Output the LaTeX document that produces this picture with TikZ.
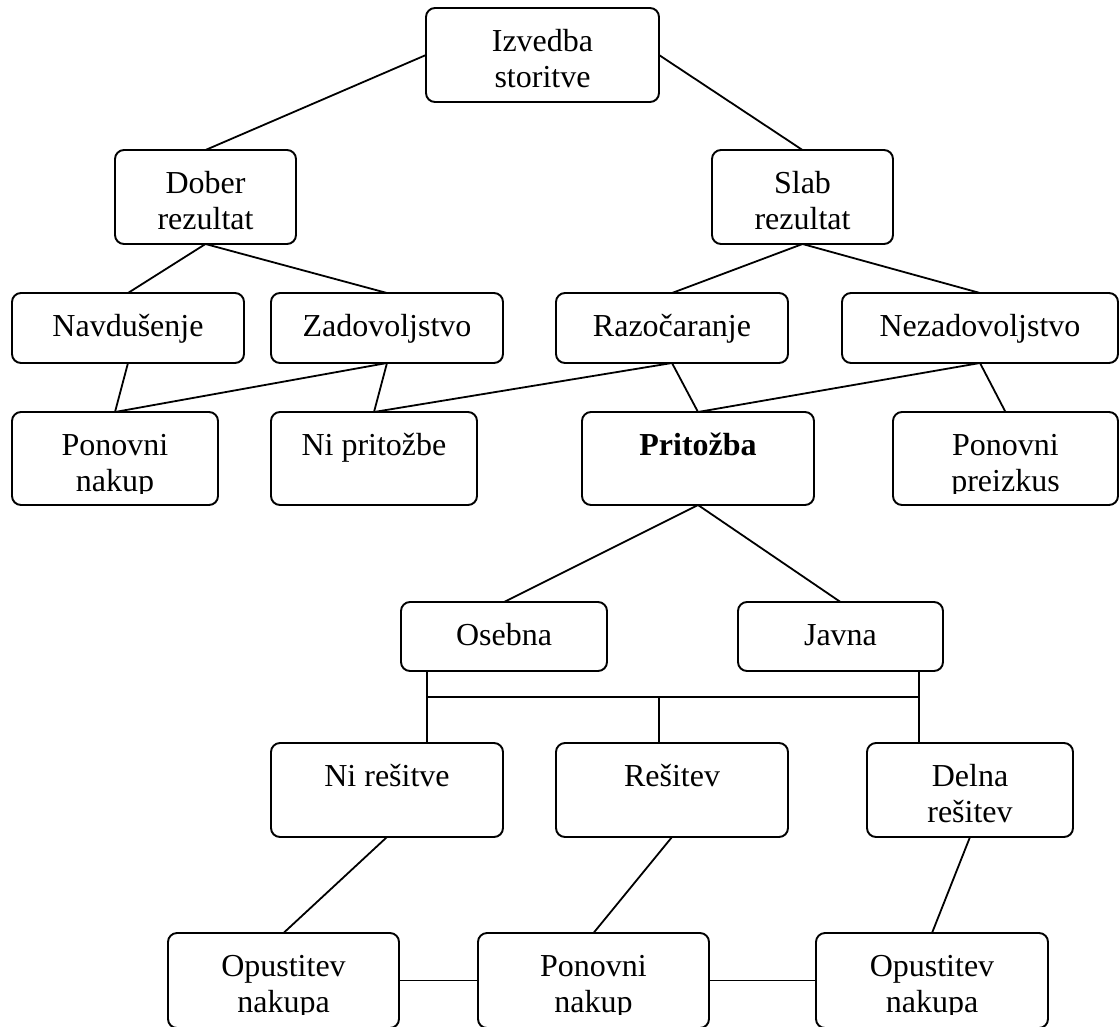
\documentclass[tikz,border=0pt]{standalone}
\usepackage{fontspec}
\setmainfont{Liberation Serif}

% text sits at the top of each box, like in a text frame
\newcommand{\boxtxt}[3]{\parbox[c][#2][t]{#1}{\centering\rule{0pt}{43pt}#3}}

\tikzset{
  box/.style={draw, rounded corners=9pt, line width=1.9pt, inner sep=0pt, outer sep=0pt,
    font=\fontsize{32}{36}\selectfont},
  link/.style={line width=1.8pt}
}

\begin{document}
\begin{tikzpicture}[x=1pt, y=-1pt]
  \useasboundingbox (0,0) rectangle (1119,1026);

  % Izvedba storitve
  \node[box] (izvedba) at (542.5,55) {\boxtxt{233pt}{94pt}{Izvedba\\storitve}};

  % Dober / slab rezultat
  \node[box] (dober) at (205.5,197) {\boxtxt{181pt}{94pt}{Dober\\rezultat}};
  \node[box] (slab) at (802.5,197) {\boxtxt{181pt}{94pt}{Slab\\rezultat}};
  \draw[link] (izvedba.west) -- (dober.north);
  \draw[link] (izvedba.east) -- (slab.north);

  % Odzivi
  \node[box] (navdusenje) at (128,328) {\boxtxt{232pt}{70pt}{Navdušenje}};
  \node[box] (zadovoljstvo) at (387,328) {\boxtxt{232pt}{70pt}{Zadovoljstvo}};
  \node[box] (razocaranje) at (672,328) {\boxtxt{232pt}{70pt}{Razočaranje}};
  \node[box] (nezadovoljstvo) at (980,328) {\boxtxt{276pt}{70pt}{Nezadovoljstvo}};
  \draw[link] (dober.south) -- (navdusenje.north);
  \draw[link] (dober.south) -- (zadovoljstvo.north);
  \draw[link] (slab.south) -- (razocaranje.north);
  \draw[link] (slab.south) -- (nezadovoljstvo.north);

  % Posledice
  \node[box] (ponovni) at (115,458.5) {\boxtxt{206pt}{93pt}{Ponovni\\nakup}};
  \node[box] (nipritozbe) at (374,458.5) {\boxtxt{206pt}{93pt}{Ni pritožbe}};
  \node[box] (pritozba) at (698,458.5) {\boxtxt{232pt}{93pt}{\textbf{Pritožba}}};
  \node[box] (preizkus) at (1005.5,458.5) {\boxtxt{225pt}{93pt}{Ponovni\\preizkus}};
  \draw[link] (navdusenje.south) -- (ponovni.north);
  \draw[link] (zadovoljstvo.south) -- (ponovni.north);
  \draw[link] (zadovoljstvo.south) -- (nipritozbe.north);
  \draw[link] (razocaranje.south) -- (nipritozbe.north);
  \draw[link] (razocaranje.south) -- (pritozba.north);
  \draw[link] (nezadovoljstvo.south) -- (pritozba.north);
  \draw[link] (nezadovoljstvo.south) -- (preizkus.north);

  % Vrsta pritozbe
  \node[box] (osebna) at (504,636.5) {\boxtxt{206pt}{69pt}{Osebna}};
  \node[box] (javna) at (840.5,636.5) {\boxtxt{205pt}{69pt}{Javna}};
  \draw[link] (pritozba.south) -- (osebna.north);
  \draw[link] (pritozba.south) -- (javna.north);

  % Izid
  \node[box] (niresitve) at (387,790) {\boxtxt{232pt}{94pt}{Ni rešitve}};
  \node[box] (resitev) at (672,790) {\boxtxt{232pt}{94pt}{Rešitev}};
  \node[box] (delna) at (970,790) {\boxtxt{206pt}{94pt}{Delna\\rešitev}};
  \coordinate (busL) at (427,697);
  \coordinate (busM) at (659,697);
  \coordinate (busR) at (919,697);
  \draw[link] (osebna.south -| busL) -- (busL) -- (busR) -- (javna.south -| busR);
  \draw[link] (busL) -- (niresitve.north -| busL);
  \draw[link] (busM) -- (resitev.north -| busM);
  \draw[link] (busR) -- (delna.north -| busR);

  % Nakup
  \node[box] (opustitevA) at (283.5,980.5) {\boxtxt{231pt}{95pt}{Opustitev\\nakupa}};
  \node[box] (ponovniB) at (593.5,980.5) {\boxtxt{231pt}{95pt}{Ponovni\\nakup}};
  \node[box] (opustitevC) at (932,980.5) {\boxtxt{232pt}{95pt}{Opustitev\\nakupa}};
  \draw[link] (niresitve.south) -- (opustitevA.north);
  \draw[link] (resitev.south) -- (ponovniB.north);
  \draw[link] (delna.south) -- (opustitevC.north);
  \draw[link] (opustitevA.east) -- (ponovniB.west);
  \draw[link] (ponovniB.east) -- (opustitevC.west);

  % text frame cuts the descenders
  \foreach \n in {ponovni, preizkus, opustitevA, ponovniB, opustitevC}
    \fill[white] ([shift={(15,82)}]\n.north west) rectangle ([shift={(-15,-4)}]\n.south east);
\end{tikzpicture}
\end{document}
